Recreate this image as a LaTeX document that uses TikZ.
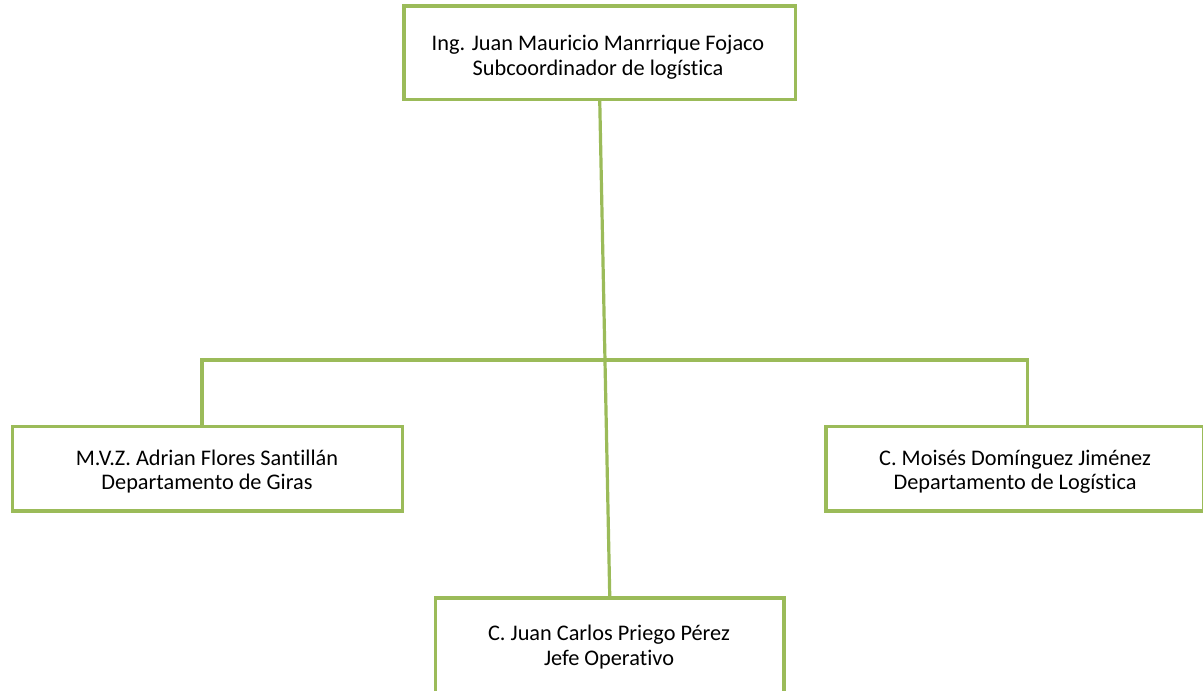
\documentclass[tikz,border=0pt]{standalone}
\usepackage{fontspec}
\setmainfont{Carlito}[Ligatures=NoCommon]
\definecolor{boxgreen}{HTML}{9BBB59}
\begin{document}
\begin{tikzpicture}[x=1pt,y=-1pt,
  box/.style={draw=boxgreen, line width=3.2pt, rectangle, inner sep=0pt},
  label/.style={align=center, inner sep=0pt, text=black,
    font=\fontsize{22.3}{24.5}\selectfont},
  link/.style={draw=boxgreen, line width=3.2pt}]
\useasboundingbox (0,0) rectangle (1203,691);
\clip (0,0) rectangle (1203,691);
\node[box, minimum width=391.5pt, minimum height=93.5pt] (top) at (599.75,52.75) {};
\node[label] (toptxt) at (598,57)
  {Ing. Juan Mauricio Manrrique Fojaco\\Subcoordinador de logística};
\node[box, minimum width=390pt, minimum height=84.5pt] (left) at (207.5,468.75) {};
\node[label] (lefttxt) at (207,471.5)
  {M.V.Z. Adrian Flores Santillán\\Departamento de Giras};
\node[box, minimum width=378pt, minimum height=84.5pt] (right) at (1015,468.75) {};
\node[label] (righttxt) at (1015,471.5)
  {C. Moisés Domínguez Jiménez\\Departamento de Logística};
\node[box, minimum width=348.5pt, minimum height=96pt] (bot) at (609.75,646) {};
\node[label] (bottxt) at (609,647)
  {C. Juan Carlos Priego Pérez\\Jefe Operativo};
\coordinate (hl) at (202,360);
\coordinate (hr) at (1027.5,360);
\draw[link] (top.south) -- (bot.north);
\draw[link] (left.north -| hl) -- (hl) -- (hr) -- (right.north -| hr);
\end{tikzpicture}
\end{document}
